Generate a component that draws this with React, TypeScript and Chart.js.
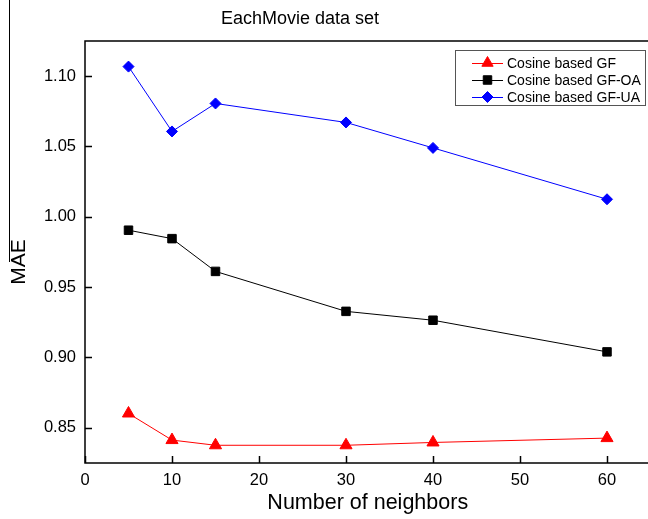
import React, { useEffect, useRef } from "react";
import { Chart, registerables } from "chart.js";

Chart.register(...registerables);

// ---- data ----
const neighbors = [5, 10, 15, 30, 40, 60];
const seriesGF = [0.8602, 0.8413, 0.8376, 0.8376, 0.8396, 0.8427];
const seriesGFOA = [0.9905, 0.9845, 0.9612, 0.9328, 0.9265, 0.9040];
const seriesGFUA = [1.1068, 1.0607, 1.0806, 1.0671, 1.0490, 1.0125];
const seriesLabels = ["Cosine based GF", "Cosine based GF-OA", "Cosine based GF-UA"];
const xTickValues = [0, 10, 20, 30, 40, 50, 60];
const yTickValues = [0.85, 0.9, 0.95, 1.0, 1.05, 1.1];
const titleText = "EachMovie data set";
const xTitle = "Number of neighbors";
const yTitle = "MAE";

const FONT = '"Liberation Sans", Arial, sans-serif';

function drawMarker(ctx: CanvasRenderingContext2D, style: string, x: number, y: number, r: number, color: string) {
  ctx.save();
  ctx.fillStyle = color;
  ctx.strokeStyle = color;
  ctx.lineWidth = 1;
  ctx.beginPath();
  if (style === "triangle") {
    ctx.moveTo(x, y - r);
    ctx.lineTo(x + r * 0.866, y + r * 0.5);
    ctx.lineTo(x - r * 0.866, y + r * 0.5);
    ctx.closePath();
  } else if (style === "rect") {
    const s = r * Math.SQRT1_2;
    ctx.rect(x - s, y - s, 2 * s, 2 * s);
  } else {
    ctx.moveTo(x, y - r);
    ctx.lineTo(x + r, y);
    ctx.lineTo(x, y + r);
    ctx.lineTo(x - r, y);
    ctx.closePath();
  }
  ctx.fill();
  ctx.stroke();
  ctx.restore();
}

const decor = {
  id: "decor",
  beforeDatasetsDraw(chart: any) {
    const { ctx, chartArea } = chart;
    const xs = chart.scales.x;
    const ys = chart.scales.y;
    ctx.save();
    ctx.strokeStyle = "#000";
    ctx.lineWidth = 1.5;
    ctx.strokeRect(chartArea.left, chartArea.top, chartArea.right - chartArea.left, chartArea.bottom - chartArea.top);
    ctx.lineWidth = 1.5;
    ctx.beginPath();
    for (const t of xs.ticks) {
      const px = Math.round(xs.getPixelForValue(t.value)) + 0.5;
      ctx.moveTo(px, chartArea.bottom);
      ctx.lineTo(px, chartArea.bottom - 7);
    }
    for (const t of ys.ticks) {
      const py = Math.round(ys.getPixelForValue(t.value)) + 0.5;
      ctx.moveTo(chartArea.left, py);
      ctx.lineTo(chartArea.left + 7, py);
    }
    ctx.stroke();
    ctx.restore();
  },
  afterDraw(chart: any) {
    const { ctx } = chart;
    ctx.save();
    // stray frame line at the left edge
    ctx.strokeStyle = "#000";
    ctx.lineWidth = 1;
    ctx.beginPath();
    ctx.moveTo(9.5, 0);
    ctx.lineTo(9.5, 262);
    ctx.stroke();
    // title
    ctx.fillStyle = "#000";
    ctx.font = `18px ${FONT}`;
    ctx.textAlign = "center";
    ctx.textBaseline = "middle";
    ctx.fillText(titleText, 300, 19);
    // y title
    ctx.save();
    ctx.translate(19, 262);
    ctx.rotate(-Math.PI / 2);
    ctx.font = `21px ${FONT}`;
    ctx.fillText(yTitle, 0, 0);
    ctx.restore();
    // legend
    ctx.strokeStyle = "#555";
    ctx.lineWidth = 1;
    ctx.strokeRect(455.5, 50.5, 190, 55);
    const rows = [63, 80, 97];
    chart.data.datasets.forEach((ds: any, i: number) => {
      const y = rows[i];
      ctx.strokeStyle = ds.borderColor;
      ctx.lineWidth = 1;
      ctx.beginPath();
      ctx.moveTo(472, y + 0.5);
      ctx.lineTo(503, y + 0.5);
      ctx.stroke();
      drawMarker(ctx, ds.pointStyle, 487.5, y, ds.pointStyle === "triangle" ? 6.5 : ds.pointStyle === "rect" ? 6 : 5.5, ds.pointBackgroundColor);
      ctx.fillStyle = "#000";
      ctx.font = `14px ${FONT}`;
      ctx.textAlign = "left";
      ctx.textBaseline = "middle";
      ctx.fillText(ds.label, 507, y + 1);
    });
    ctx.restore();
  },
};

export default function App() {
  const ref = useRef<HTMLCanvasElement | null>(null);
  useEffect(() => {
    if (!ref.current) return;
    const mk = (vals: number[]) => neighbors.map((x, i) => ({ x, y: vals[i] }));
    const chart = new Chart(ref.current, {
      type: "line",
      data: {
        datasets: [
          {
            label: seriesLabels[0],
            data: mk(seriesGF),
            borderColor: "#ff0000",
            borderWidth: 1,
            pointStyle: "triangle",
            pointRadius: 7,
            pointBackgroundColor: "#ff0000",
            pointBorderColor: "#ff0000",
            pointBorderWidth: 1,
          } as any,
          {
            label: seriesLabels[1],
            data: mk(seriesGFOA),
            borderColor: "#000000",
            borderWidth: 1,
            pointStyle: "rect",
            pointRadius: 6,
            pointBackgroundColor: "#000000",
            pointBorderColor: "#000000",
            pointBorderWidth: 1,
          } as any,
          {
            label: seriesLabels[2],
            data: mk(seriesGFUA),
            borderColor: "#0000ff",
            borderWidth: 1,
            pointStyle: "rectRot",
            pointRadius: 5.5,
            pointBackgroundColor: "#0000ff",
            pointBorderColor: "#0000ff",
            pointBorderWidth: 1,
          } as any,
        ],
      },
      options: {
        animation: false,
        responsive: true,
        maintainAspectRatio: false,
        layout: { padding: { top: 41, left: 0, right: 11.5, bottom: 0 } },
        plugins: { legend: { display: false }, title: { display: false }, tooltip: { enabled: false } },
        scales: {
          x: {
            type: "linear",
            min: 0,
            max: 65,
            afterBuildTicks: (s: any) => {
              s.ticks = xTickValues.map((v) => ({ value: v }));
            },
            afterFit: (s: any) => {
              s.height = 56;
            },
            grid: { display: false, drawTicks: false },
            border: { display: false },
            ticks: {
              autoSkip: false,
              maxRotation: 0,
              padding: 8,
              color: "#000",
              font: { family: FONT, size: 16.5 },
              callback: (v: any) => String(v),
            },
            title: {
              display: true,
              text: xTitle,
              color: "#000",
              font: { family: FONT, size: 21.5 },
              padding: { top: 0, bottom: 3 },
            },
          },
          y: {
            type: "linear",
            min: 0.825,
            max: 1.125,
            afterBuildTicks: (s: any) => {
              s.ticks = yTickValues.map((v) => ({ value: v }));
            },
            afterFit: (s: any) => {
              s.width = 85;
            },
            grid: { display: false, drawTicks: false },
            border: { display: false },
            ticks: {
              autoSkip: false,
              padding: 9,
              color: "#000",
              font: { family: FONT, size: 16.5 },
              callback: (v: any) => Number(v).toFixed(2),
            },
          },
        },
      },
      plugins: [decor],
    });
    return () => chart.destroy();
  }, []);

  return (
    <div style={{ position: "absolute", left: 0, top: 0, width: 648, height: 519, overflow: "hidden", background: "#fff" }}>
      <div style={{ position: "relative", width: 662, height: 519 }}>
        <canvas ref={ref} />
      </div>
    </div>
  );
}
